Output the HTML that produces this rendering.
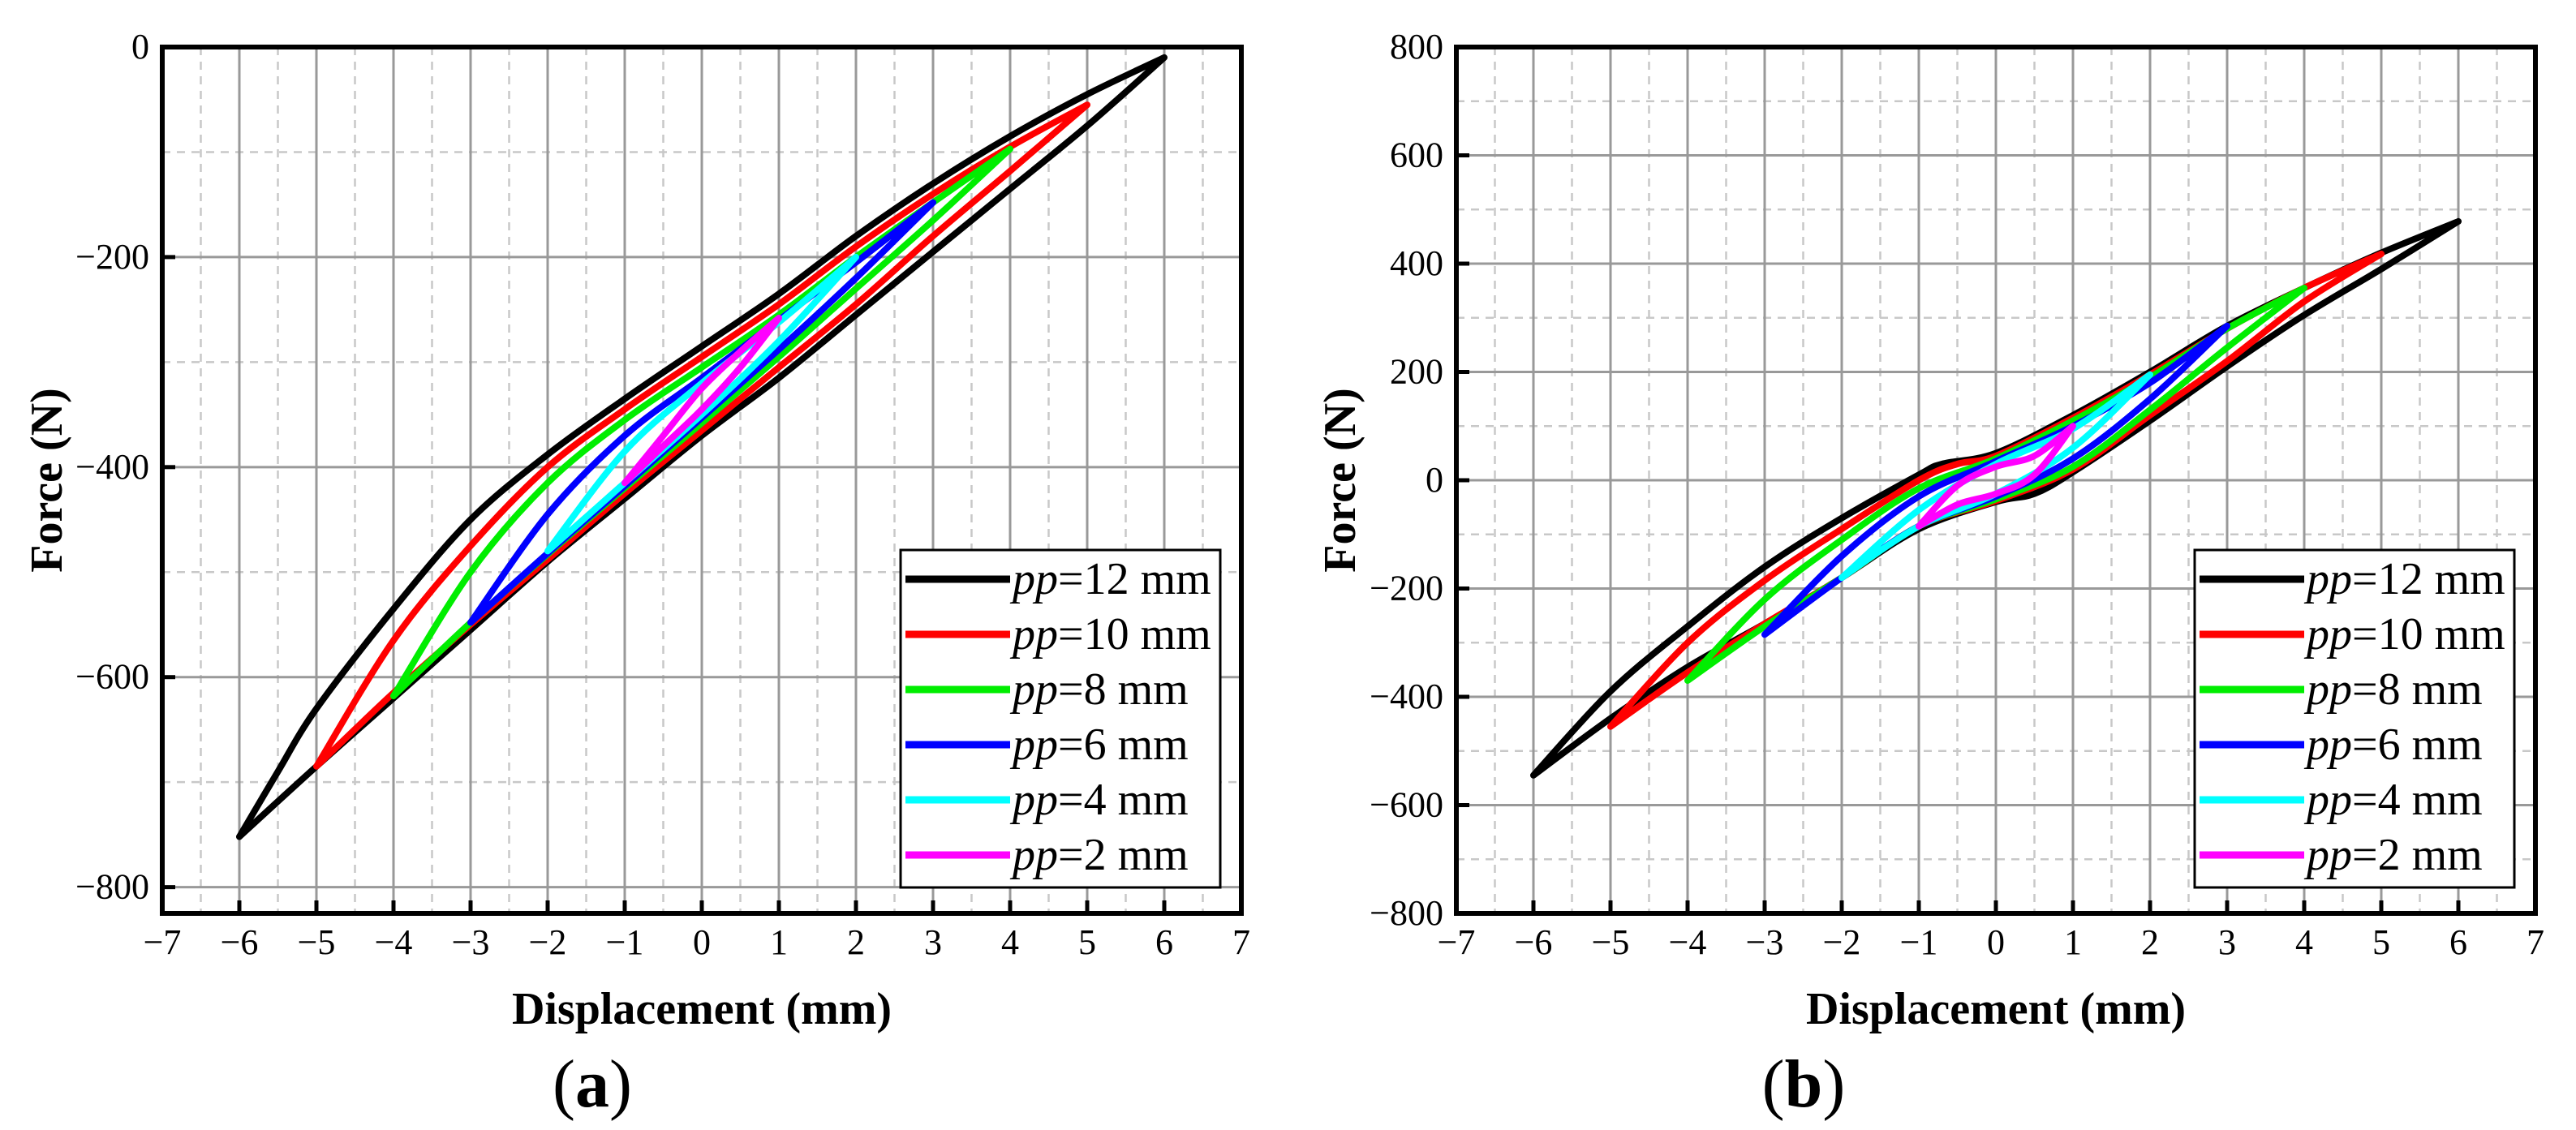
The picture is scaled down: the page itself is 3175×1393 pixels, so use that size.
<!DOCTYPE html>
<html><head><meta charset="utf-8"><style>
html,body{margin:0;padding:0;background:#fff;}
svg{display:block;}
text{font-family:"Liberation Serif",serif;}
</style></head><body>
<svg id="fig" width="3175" height="1393" viewBox="0 0 3175 1393" xmlns="http://www.w3.org/2000/svg"></svg>
<script>
const colors = ['#000000','#ff0000','#00ee00','#0000ff','#00ffff','#ff00ff'];
const labels = ['12 mm','10 mm','8 mm','6 mm','4 mm','2 mm'];
const xTicks = [-7,-6,-5,-4,-3,-2,-1,0,1,2,3,4,5,6,7];
const yTicksA = [0,-200,-400,-600,-800];
const yTicksB = [800,600,400,200,0,-200,-400,-600,-800];
// Panel (a) loops: upper and lower branches as [x, F]
const aUpper = [
 [[-6,-752],[-5.5,-690],[-5,-630],[-4,-535],[-3,-450],[-2,-388],[-1,-335],[0,-285],[1,-235],[2,-180],[3,-130],[4,-85],[5,-45],[6,-10]],
 [[-5,-685],[-4,-565],[-3,-475],[-2,-400],[-1,-345],[0,-295],[1,-245],[2,-190],[3,-140],[4,-95],[5,-55]],
 [[-4,-618],[-3,-500],[-2,-415],[-1,-355],[0,-305],[1,-255],[2,-200],[3,-148],[4,-97]],
 [[-3,-548],[-2,-445],[-1,-370],[0,-315],[1,-260],[2,-205],[3,-148]],
 [[-2,-480],[-1,-385],[0,-320],[1,-262],[2,-200]],
 [[-1,-415],[-0.5,-370],[0,-325],[0.5,-290],[1,-258]]
];
const aLower = [
 [[-6,-752],[-5,-685],[-4,-620],[-3,-555],[-2,-490],[-1,-430],[0,-370],[1,-315],[2,-255],[3,-195],[4,-135],[5,-75],[6,-10]],
 [[-5,-685],[-4,-615],[-3,-550],[-2,-488],[-1,-425],[0,-365],[1,-305],[2,-245],[3,-180],[4,-118],[5,-55]],
 [[-4,-618],[-3,-548],[-2,-483],[-1,-420],[0,-358],[1,-295],[2,-230],[3,-165],[4,-97]],
 [[-3,-548],[-2,-482],[-1,-418],[0,-353],[1,-288],[2,-220],[3,-148]],
 [[-2,-480],[-1,-415],[0,-350],[1,-280],[2,-200]],
 [[-1,-415],[-0.5,-380],[0,-345],[0.5,-305],[1,-258]]
];
// Panel (b) loops
const bUpper = [
 [[-6,-545],[-5,-390],[-4,-270],[-3,-160],[-2,-70],[-1,10],[-0.7,30],[0,50],[1,120],[2,200],[3,285],[4,355],[5,420],[6,478]],
 [[-5,-455],[-4,-300],[-3,-185],[-2,-90],[-1,0],[-0.5,30],[0,45],[1,115],[2,195],[3,280],[4,355],[5,418]],
 [[-4,-370],[-3,-220],[-2,-110],[-1,-15],[0,40],[1,110],[2,190],[3,280],[4,355]],
 [[-3,-285],[-2,-140],[-1,-30],[0,35],[1,100],[2,180],[3,285]],
 [[-2,-180],[-1,-55],[0,30],[1,95],[2,195]],
 [[-1,-85],[-0.5,-10],[0,25],[0.5,45],[1,100]]
];
const bLower = [
 [[-6,-545],[-5,-440],[-4,-345],[-3,-265],[-2,-180],[-1,-90],[0,-40],[0.5,-25],[1,15],[2,110],[3,210],[4,305],[5,390],[6,478]],
 [[-5,-455],[-4,-355],[-3,-265],[-2,-180],[-1,-85],[0,-38],[1,20],[2,120],[3,220],[4,330],[5,418]],
 [[-4,-370],[-3,-270],[-2,-180],[-1,-85],[0,-35],[1,25],[2,130],[3,245],[4,355]],
 [[-3,-285],[-2,-180],[-1,-85],[0,-30],[1,40],[2,150],[3,285]],
 [[-2,-180],[-1,-85],[0,-25],[1,60],[2,195]],
 [[-1,-85],[-0.5,-45],[0,-25],[0.5,10],[1,100]]
];

const NS='http://www.w3.org/2000/svg';
const svg=document.getElementById('fig');
function mk(tag,attrs,parent){const e=document.createElementNS(NS,tag);for(const k in attrs)e.setAttribute(k,attrs[k]);(parent||svg).appendChild(e);return e;}
function smooth(pts){let d='M'+pts[0][0]+','+pts[0][1];for(let i=0;i<pts.length-1;i++){const p0=pts[i-1]||pts[i],p1=pts[i],p2=pts[i+1],p3=pts[i+2]||p2;const c1=[p1[0]+(p2[0]-p0[0])/6,p1[1]+(p2[1]-p0[1])/6],c2=[p2[0]-(p3[0]-p1[0])/6,p2[1]-(p3[1]-p1[1])/6];d+=' C'+c1[0].toFixed(1)+','+c1[1].toFixed(1)+' '+c2[0].toFixed(1)+','+c2[1].toFixed(1)+' '+p2[0].toFixed(1)+','+p2[1].toFixed(1);}return d;}

function panel(cfg){
 const g=mk('g',{});
 
 
 const L=cfg.L,R=cfg.L+1330,T=58,B=1126;
 const sx=v=>L+(v+7)*(R-L)/14;
 const sy=v=>T+(cfg.ymax-v)*(B-T)/(cfg.ymax-cfg.ymin);
 for(let x=-6.5;x<7;x+=1){const l=mk('line',{x1:sx(x),x2:sx(x),y1:T,y2:B,stroke:'#c8c8c8','stroke-width':2.5,'stroke-dasharray':'10,8'},g);}
 for(let y=cfg.ymax-100;y>cfg.ymin;y-=200){const l=mk('line',{x1:L,x2:R,y1:sy(y),y2:sy(y),stroke:'#c8c8c8','stroke-width':2.5,'stroke-dasharray':'10,8'},g);}
 xTicks.forEach(x=>{if(x>-7&&x<7){const l=mk('line',{x1:sx(x),x2:sx(x),y1:T,y2:B,stroke:'#999','stroke-width':3},g);}});
 cfg.yTicks.forEach(y=>{if(sy(y)>T+2&&sy(y)<B-2){const l=mk('line',{x1:L,x2:R,y1:sy(y),y2:sy(y),stroke:'#999','stroke-width':3},g);}});
 for(let i=0;i<6;i++){
  const up=cfg.up[i].map(p=>[sx(p[0]),sy(p[1])]);
  const lo=cfg.lo[i].map(p=>[sx(p[0]),sy(p[1])]);
  const p=mk('path',{d:smooth(up)+' '+smooth(lo),fill:'none',stroke:colors[i],'stroke-width':8,'stroke-linejoin':'round','stroke-linecap':'round'},g);
  
  
 }
 xTicks.forEach(x=>{const l=mk('line',{x1:sx(x),x2:sx(x),y1:B,y2:B-16,stroke:'#000','stroke-width':5},g);
  const t=mk('text',{x:sx(x),y:1176,'font-size':44,'text-anchor':'middle'},g);t.textContent=(x<0?'\u2212'+(-x):x);});
 cfg.yTicks.forEach(y=>{const l=mk('line',{x1:L,x2:L+16,y1:sy(y),y2:sy(y),stroke:'#000','stroke-width':5},g);
  const t=mk('text',{x:L-16,y:sy(y)+14,'font-size':44,'text-anchor':'end'},g);t.textContent=(y<0?'\u2212'+(-y):y);});
 const f=mk('rect',{x:L,y:T,width:R-L,height:B-T,fill:'none',stroke:'#000','stroke-width':6},g);
 
 const lg=mk('g',{},g);
 mk('rect',{x:L+910,y:678,width:394,height:416,fill:'#fff',stroke:'#000','stroke-width':3},lg);
 for(let i=0;i<6;i++){const yy=714+68*i;
  const e=mk('g',{},lg);
  mk('line',{x1:L+916,x2:L+1045,y1:yy,y2:yy,stroke:colors[i],'stroke-width':9},e);
  const t=mk('text',{x:L+1048,y:yy+18,'font-size':56},e);
  const ts=mk('tspan',{'font-style':'italic'},t);ts.textContent='pp';
  const t2=mk('tspan',{},t);t2.textContent='='+labels[i];}
 const xt=mk('text',{x:(L+R)/2,y:1262,'font-size':56,'font-weight':'bold','text-anchor':'middle'},g);xt.textContent='Displacement (mm)';
 const yt=mk('text',{x:cfg.ytx,y:592,'font-size':56,'font-weight':'bold','text-anchor':'middle',transform:'rotate(-90 '+cfg.ytx+' 592)',dy:18},g);yt.textContent='Force (N)';
 const pl=mk('text',{x:cfg.px,y:1364,'font-size':84,'text-anchor':'middle'},g);
 pl.appendChild(document.createTextNode('('));const b=mk('tspan',{'font-weight':'bold'},pl);b.textContent=cfg.letter;pl.appendChild(document.createTextNode(')'));
 
}
panel({name:'panel-a',L:200,ymax:0,ymin:-825,yTicks:yTicksA,up:aUpper,lo:aLower,ytx:58,px:730,letter:'a'});
panel({name:'panel-b',L:1795,ymax:800,ymin:-800,yTicks:yTicksB,up:bUpper,lo:bLower,ytx:1652,px:2223,letter:'b'});
</script>
</body></html>
